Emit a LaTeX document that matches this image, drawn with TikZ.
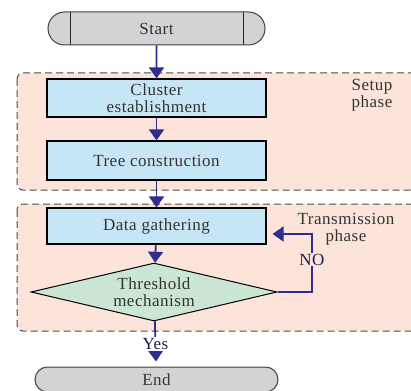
\documentclass[tikz,border=0pt]{standalone}
\usepackage{fontspec}
\setmainfont{Liberation Serif}[LetterSpace=3]
\usetikzlibrary{shapes.geometric, shapes.misc, arrows.meta, positioning}
\definecolor{phasefill}{HTML}{FCE4DA}
\definecolor{stepfill}{HTML}{C6E6F6}
\definecolor{testfill}{HTML}{CBE7D3}
\definecolor{termfill}{HTML}{D3D3D5}
\definecolor{flowblue}{HTML}{2E2E8E}
\definecolor{inkgray}{HTML}{333333}

\begin{document}
\begin{tikzpicture}[
x=1pt, y=1pt,
every node/.style={font=\fontsize{17}{17}\selectfont, text=inkgray},
% phases (dashed frames)
phase/.style={draw=black!70, dashed, dash pattern=on 7pt off 4pt, line width=1pt, fill=phasefill, rounded corners=6pt},
phaseannot/.style={align=center},
% steps of the flow chart
stepbox/.style={draw, line width=1.1pt, fill=stepfill, minimum width=219pt, align=center, inner sep=0pt},
test/.style={draw, line width=1pt, fill=testfill, diamond, aspect=4.24, minimum width=246pt, minimum height=58pt, inner sep=0pt, align=center},
term/.style={draw=black!75, line width=1pt, fill=termfill, rounded rectangle, inner sep=0pt},
% connectors
flow/.style={draw=flowblue, line width=1.8pt, -{Triangle[width=15pt, length=11pt]}},
answer/.style={text=flowblue!60!black, inner sep=1pt}
]

\useasboundingbox (0,0) rectangle (411,-390);

% PHASES
\path[phase] (17,-73) rectangle (425,-190);
\path[phase] (17,-204) rectangle (425,-331);
\node[phaseannot] (setup) at (372,-95) {Setup\\phase};
\node[phaseannot] (trans) at (346,-229) {Transmission\\phase};

% STEPS
\node[term, minimum width=217pt, minimum height=33pt] (start) at (156.5,-28.5) {Start};
\draw[black!85, line width=1pt]
(start.center) ++(-86.5pt,16.5pt) -- ++(0,-33pt)
(start.center) ++(86.5pt,16.5pt) -- ++(0,-33pt);
\node[stepbox, minimum height=38pt] (cluster) at (156.5,-98) {Cluster\\establishment};
\node[stepbox, minimum height=39pt] (tree) at (156.5,-160.5) {Tree construction};
\node[stepbox, minimum height=36pt] (data) at (156.5,-226) {Data gathering};
\node[test] (check) at (154,-292) {Threshold\\mechanism};
\node[term, minimum width=243pt, minimum height=25pt] (end) at (156.5,-379.5) {End};

% CONNECTORS
\coordinate (loop) at (312,-234);
\draw[flow] (start) -- (cluster);
\draw[flow] (cluster) -- (tree);
\draw[flow] (tree) -- (data);
\draw[flow] (data) -- (check);
\draw[flow, shorten >=6pt] (check.east) -| node[answer, fill=phasefill, pos=0.78] (no) {NO} (loop) -- (data.east |- loop);
\draw[flow, shorten >=5pt] (check) -- node[answer, fill=white, pos=0.5] (yes) {Yes} (end);

\end{tikzpicture}
\end{document}
